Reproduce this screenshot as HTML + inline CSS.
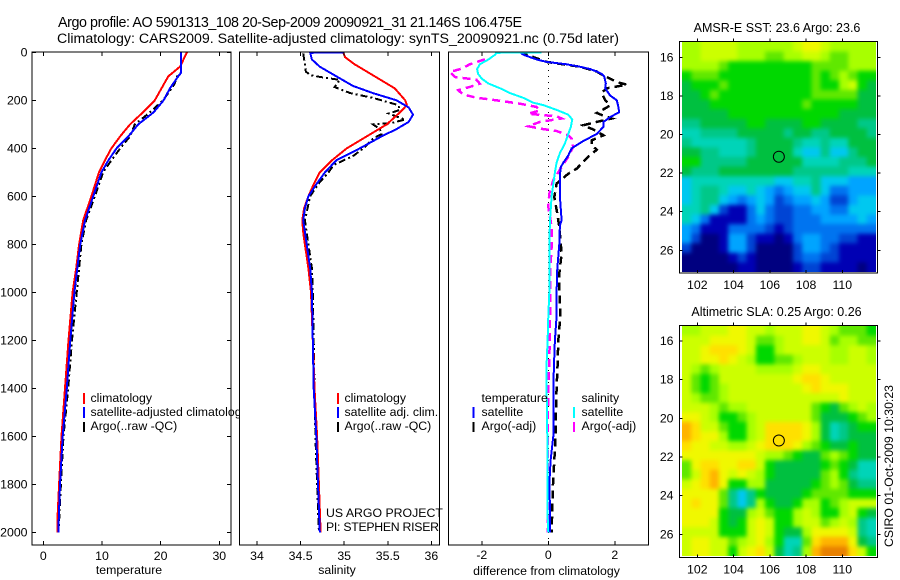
<!DOCTYPE html>
<html lang="en">
<head>
<meta charset="utf-8">
<title>Argo profile</title>
<style>
html,body{margin:0;padding:0;background:#fff;}
svg{display:block;font-family:"Liberation Sans",sans-serif;font-size:12px;fill:#000;}
</style>
</head>
<body>
<svg id="fig" xmlns="http://www.w3.org/2000/svg" width="900" height="580" viewBox="0 0 900 580">
<defs>
<filter id="mapBlur" x="-10%" y="-10%" width="120%" height="120%" color-interpolation-filters="sRGB"><feGaussianBlur stdDeviation="2"/></filter>
</defs>
<rect x="0" y="0" width="900" height="580" fill="#fff"/>
<text x="58" y="27" font-size="14.3" textLength="464">Argo profile: AO 5901313_108 20-Sep-2009 20090921_31 21.146S 106.475E</text>
<text x="57" y="43" font-size="14.2" textLength="562">Climatology: CARS2009. Satellite-adjusted climatology: synTS_20090921.nc (0.75d later)</text>
<text x="777" y="32" font-size="12.5" text-anchor="middle">AMSR-E SST: 23.6 Argo: 23.6</text>
<text x="776.5" y="316" font-size="12.5" text-anchor="middle">Altimetric SLA: 0.25 Argo: 0.26</text>
<text x="0" y="0" font-size="12.3" transform="translate(893,547) rotate(-90)">CSIRO 01-Oct-2009 10:30:23</text>
<g id="layer"></g>
</svg>
<script>
// ---- axis ticks ----
const depthTicks = [0,200,400,600,800,1000,1200,1400,1600,1800,2000];
const tempTicks = [0,10,20,30];
const salTicks = [34,34.5,35,35.5,36];
const salTickLabels = ['34','34.5','35','35.5','36'];
const diffTicks = [-2,0,2];
const lonTicks = [102,104,106,108,110];
const latTicks = [16,18,20,22,24,26];

// ---- temperature panel ----
const tClimDepth = [0,60,100,200,250,300,350,400,450,500,600,700,800,900,1000,1200,1400,1600,1800,1950,2000];
const tClimVal = [24.5,23.3,21.3,19,17,14.8,13.1,11.6,10.5,9.5,8.2,6.8,6.1,5.6,5,4.3,3.7,3.1,2.7,2.4,2.4];
const tSatDepth = [0,85,100,150,200,250,300,350,400,450,500,600,700,800,900,1000,1200,1400,1600,1800,2000];
const tSatVal = [23.5,23.5,23,21.6,20.5,18.8,16.2,14.5,12.5,11.1,9.9,8.5,7.1,6.3,5.8,5.3,4.6,4,3.3,2.85,2.55];
const tArgoDepth = [0,85,100,130,150,200,250,300,350,400,450,500,600,700,800,900,1000,1200,1400,1600,1800,2000];
const tArgoVal = [23.5,23.5,22.8,22.4,21.9,20.4,18.2,15.6,14.8,13.1,11.6,10.2,8.8,7.3,6.5,6.1,5.7,4.9,4.25,3.45,3,2.6];

// ---- salinity panel ----
const sClimDepth = [0,20,50,100,150,200,220,250,300,350,400,450,500,550,600,650,700,750,800,900,1000,1200,1400,1600,1800,2000];
const sClimVal = [34.99,35.01,35.12,35.35,35.58,35.7,35.72,35.64,35.49,35.26,35.03,34.86,34.72,34.65,34.59,34.54,34.52,34.53,34.55,34.59,34.62,34.64,34.66,34.69,34.71,34.73];
const sSatDepth = [0,2,30,60,100,140,170,200,230,260,290,320,350,400,450,500,550,600,650,700,800,900,1000,1200,1400,1500,1600,1800,2000];
const sSatVal = [34.99,34.61,34.63,34.72,34.91,35.1,35.33,35.6,35.74,35.79,35.74,35.6,35.43,35.18,34.91,34.78,34.68,34.59,34.55,34.53,34.57,34.61,34.63,34.64,34.65,34.665,34.68,34.7,34.72];
const sArgoDepth = [5,50,80,95,105,115,145,170,190,220,240,255,270,280,295,300,320,340,360,400,430,470,500,550,600,700,800,900,1000,1200,1400,1600,1800,2000];
const sArgoVal = [34.53,34.55,34.56,34.61,34.76,34.95,34.89,35.07,35.33,35.62,35.64,35.51,35.62,35.7,35.54,35.33,35.41,35.43,35.33,35.22,35.11,34.88,34.82,34.7,34.61,34.55,34.59,34.63,34.64,34.65,34.66,34.67,34.69,34.71];

// ---- difference panel ----
const dTSatDepth = [0,10,20,30,40,50,60,70,80,90,100,130,150,180,200,230,250,270,290,310,340,370,400,430,460,480,520,600,700,720,800,900,1000,1100,1200,1300,1400,1500,1600,1700,1800,1900,2000];
const dTSatVal = [-0.85,-0.75,-0.55,-0.35,-0.05,0.55,0.95,1.26,1.46,1.6,1.68,1.73,1.71,1.86,2.06,2.11,2.13,1.86,1.66,1.66,1.46,1.05,0.7,0.6,0.45,0.37,0.35,0.35,0.4,0.35,0.33,0.27,0.25,0.25,0.2,0.17,0.15,0.16,0.15,0.07,0.03,0.05,0.05];
const dTArgoDepth = [0,40,60,80,89,103,124,135,150,169,200,221,230,253,267,276,290,304,322,346,367,388,406,436,464,485,506,547,603,672,728,839,922,992,1100,1200,1300,1400,1500,1600,1700,1800,1900,2000];
const dTArgoVal = [-0.85,-0.05,0.95,1.46,1.56,1.76,2.06,2.36,1.76,1.6,1.71,1.86,1.76,1.46,1.71,1.91,1.46,1.05,1.36,1.66,1.3,1.3,1.46,1.2,1,0.85,0.6,0.25,0.18,0.27,0.33,0.4,0.33,0.33,0.36,0.3,0.28,0.25,0.23,0.22,0.18,0.14,0.12,0.1];
const dSSatDepth = [0,2,10,30,50,70,90,110,130,150,170,190,210,220,240,260,280,310,340,380,420,460,500,550,600,700,800,1000,1100,1200,1300,1400,1600,1700,1900,2000];
const dSSatVal = [-0.2,-1.56,-1.6,-1.8,-2.06,-2.14,-2.11,-2,-1.8,-1.45,-1.15,-0.75,-0.45,-0.15,0.25,0.6,0.72,0.68,0.6,0.5,0.35,0.25,0.2,0.15,0.1,0.05,0.03,0.03,0,-0.02,-0.05,-0.05,-0.03,-0.03,-0.03,0];
const dSArgoDepth = [29,50,68,82,103,114,131,144,158,176,189,200,214,228,242,256,267,276,290,308,318,328,346,360,394,436,478,533,589,644,728,811,922,992,1100,1300,1400,1600,1900,2000];
const dSArgoVal = [-1.91,-2.36,-2.6,-2.96,-2.81,-2.16,-2.06,-2.36,-2.71,-2.56,-2.16,-1.56,-0.85,-0.35,-0.25,-0.6,0.25,0.4,-0.25,-0.6,-0.25,0.25,0.6,0.7,0.75,0.6,0.4,0.15,0.03,0,0.1,0.1,0.05,0.05,0.05,0.03,0,-0.02,-0.02,-0.02];

// ---- map grids (colour-level values, north to south) ----
const sstGrid = [
[11,11,12,12,12,12,11,11,11,11,11,11,12,13,13,12,11,11,11,11,11],
[11,11,12,12,12,12,11,11,11,10,10,11,11,12,12,11,10,10,11,11,11],
[11,11,11,11,10,9,9,9,9,9,9,9,9,9,10,10,10,10,11,11,11],
[9,10,10,10,9,9,9,9,9,9,9,9,9,9,10,9,10,11,10,9,9],
[8,9,9,9,10,9,9,9,9,9,9,9,9,9,10,9,9,11,12,9,8],
[8,8,9,10,9,9,9,9,9,9,9,9,9,9,10,10,10,10,10,8,8],
[8,8,8,9,9,9,9,9,9,9,9,9,9,10,9,9,9,9,9,8,8],
[8,8,8,8,8,9,9,9,9,9,9,9,9,9,9,9,9,8,8,8,8],
[7,7,8,8,8,8,8,9,9,8,8,8,8,9,9,8,8,8,8,7,7],
[6,6,7,7,7,7,8,8,8,8,8,7,8,8,7,7,8,8,8,8,7],
[7,6,6,6,6,6,6,7,8,8,8,8,7,6,6,7,6,6,8,8,8],
[8,8,7,7,6,6,6,7,8,8,8,8,6,5,5,7,5,5,7,8,8],
[9,9,7,7,7,7,7,8,8,8,8,8,8,6,6,6,6,7,7,7,8],
[8,7,7,7,8,8,8,8,8,8,8,8,7,7,7,7,7,7,6,6,6],
[5,6,6,6,6,6,6,6,6,6,5,5,6,6,7,5,5,5,4,4,4],
[5,6,7,7,6,5,5,6,5,4,3,4,5,5,7,5,3,3,4,4,4],
[5,6,7,7,5,4,3,4,5,4,2,3,4,4,5,4,2,2,4,5,5],
[6,6,7,5,2,1,1,3,5,3,2,2,3,3,4,4,3,3,5,5,5],
[6,5,3,1,1,1,1,3,4,3,2,2,3,3,3,4,4,4,4,5,4],
[4,3,1,1,1,3,3,3,3,2,1,2,3,3,3,3,3,3,3,3,3],
[4,2,0,0,1,4,4,2,1,1,0,1,3,4,4,3,3,2,2,1,1],
[2,0,0,0,1,4,4,2,0,0,0,0,2,4,4,3,2,1,1,1,1],
[0,0,0,0,0,1,2,1,0,0,0,0,2,3,3,2,2,1,1,1,1],
[0,0,0,0,0,0,1,1,0,0,0,0,1,2,2,1,1,1,1,0,1]
];
const slaGrid = [
[11,11,12,12,12,13,13,12,12,11,12,12,12,13,13,12,11,10,10,10,9],
[12,12,12,13,13,13,13,12,10,10,11,12,12,13,13,12,10,11,11,10,10],
[12,12,13,14,14,14,13,12,9,9,11,12,12,12,12,12,11,11,12,12,11],
[12,12,13,13,14,13,12,11,9,9,10,10,11,12,12,12,11,11,12,12,11],
[12,11,10,11,12,12,12,12,11,11,11,11,12,13,13,12,12,12,12,12,12],
[12,10,9,10,12,12,12,12,12,12,12,12,13,14,14,13,12,12,12,12,12],
[12,10,9,10,11,12,12,12,12,12,12,12,12,13,14,13,13,13,12,12,12],
[12,11,10,10,11,12,12,12,12,12,12,12,12,12,12,12,12,13,12,12,12],
[12,12,12,11,10,11,11,12,12,12,12,12,12,12,10,9,8,10,11,12,11],
[13,13,12,11,9,9,10,11,12,12,12,12,12,12,10,8,8,8,9,10,11],
[15,14,12,12,10,9,9,11,12,14,14,14,14,13,11,8,6,7,8,9,9],
[15,14,13,13,11,9,9,11,12,14,14,14,14,13,11,8,6,7,8,8,8],
[14,13,13,12,12,11,11,12,13,14,14,14,13,11,10,9,8,8,9,8,8],
[13,13,13,13,13,13,13,13,12,11,11,10,9,8,8,10,11,10,9,8,8],
[10,13,14,14,13,13,14,14,12,9,8,8,8,8,8,9,10,9,8,6,6],
[10,12,14,15,13,12,13,12,11,9,8,8,8,8,8,10,11,9,7,6,6],
[12,13,14,15,13,9,9,11,11,8,8,8,8,8,9,10,11,10,8,7,7],
[13,13,13,13,10,7,5,7,9,8,8,8,8,9,10,10,10,10,9,9,9],
[13,14,13,13,10,7,5,7,11,9,8,8,9,11,11,9,10,11,12,12,12],
[13,13,13,13,9,8,8,11,12,10,9,9,11,12,11,9,9,11,12,9,8],
[13,13,13,12,9,8,9,12,13,12,9,9,11,12,12,10,11,12,11,7,6],
[12,12,12,12,9,9,9,12,13,12,9,8,8,11,13,13,13,13,12,7,6],
[12,13,13,12,12,10,11,12,13,11,9,6,6,10,14,15,15,15,13,8,7],
[12,13,13,12,12,9,12,13,14,12,8,6,7,11,15,16,16,16,14,12,9]
];
const levelColors = ['#000080','#0000b4','#0044d4','#0074f0','#00a4ff','#00c8f0','#00d4b8','#00c888','#00c040','#00d800','#60e800','#a8ff00','#ccff00','#f0f800','#ffe000','#ffb400','#e88000'];
const argoLon = 106.5;
const argoLat = 21.15;

// ---- axis functions ----
const NS = 'http://www.w3.org/2000/svg';
const layer = document.getElementById('layer');
function el(tag, attrs, parent){
  const e = document.createElementNS(NS, tag);
  for (const k in attrs) e.setAttribute(k, attrs[k]);
  (parent || layer).appendChild(e);
  return e;
}
const depthY = d => 52.3 + d * 0.24;
const tempX = v => 43.3 + v * 5.867;
const salX = v => 257 + (v - 34) * 87.17;
const diffX = v => 548.3 + v * 33.25;
const lonX = v => 697.3 + (v - 102) * 18.125;
const latY1 = v => 57.3 + (v - 16) * 19.3;
const latY2 = v => 341 + (v - 16) * 19.33;

function label(name, txt, x, y, anchor){
  const t = el('text', {x:x, y:y, 'text-anchor':anchor || 'start', 'font-size':12.3});
  
  
  t.textContent = txt;
  return t;
}
function tick(name, x1, y1, x2, y2){
  const l = el('line', {x1:x1, y1:y1, x2:x2, y2:y2, stroke:'#000', 'stroke-width':1, 'shape-rendering':'crispEdges'});
  
  
}
function series(name, depth, vals, xf, color, width, dash, clipId){
  const pts = depth.map((d, i) => xf(vals[i]).toFixed(1) + ',' + depthY(d).toFixed(1)).join(' ');
  const p = el('polyline', {points:pts, fill:'none', stroke:color, 'stroke-width':width, 'clip-path':'url(#' + clipId + ')', 'shape-rendering':'crispEdges'});
  if (dash) p.setAttribute('stroke-dasharray', dash);
  
  
}
function panelFrame(name, x0, x1, y0, y1){
  const r = el('rect', {x:x0, y:y0, width:x1 - x0, height:y1 - y0, fill:'none', stroke:'#000', 'stroke-width':1, 'shape-rendering':'crispEdges'});
  
  
}
function panelBg(name, id, x0, x1, y0, y1){
  const r = el('rect', {x:x0, y:y0, width:x1 - x0, height:y1 - y0, fill:'#fff'});
  
  
  const c = el('clipPath', {id:id});
  el('rect', {x:x0, y:y0, width:x1 - x0, height:y1 - y0}, c);
}
function legendMark(name, x, y0, y1, color){
  const l = el('line', {x1:x, y1:y0, x2:x, y2:y1, stroke:color, 'stroke-width':2, 'shape-rendering':'crispEdges'});
  
  
}

const T = 52, B = 545;

// Temperature panel
panelBg('temperature-panel-background', 'clipT', 32, 231, T, B);
label('legend-climatology', 'climatology', 90.5, 402);
legendMark('legend-mark-climatology', 84, 393, 404, '#f00');
label('legend-satellite-adjusted', 'satellite-adjusted climatology', 90.5, 416);
legendMark('legend-mark-satellite-adjusted', 84, 407, 418, '#00f');
label('legend-argo', 'Argo(..raw -QC)', 90.5, 430);
legendMark('legend-mark-argo', 84, 422, 432, '#000');
series('temperature-argo-line', tArgoDepth, tArgoVal, tempX, '#000', 2, '7 3 2 3', 'clipT');
series('temperature-climatology-line', tClimDepth, tClimVal, tempX, '#f00', 2, '', 'clipT');
series('temperature-satellite-line', tSatDepth, tSatVal, tempX, '#00f', 2, '', 'clipT');
depthTicks.forEach(d => {
  tick('depth-tick-left', 32, depthY(d), 36, depthY(d));
  tick('depth-tick-right', 227, depthY(d), 231, depthY(d));
  label('depth-tick-label', String(d), 27.5, depthY(d) + 4, 'end');
});
tempTicks.forEach(v => {
  tick('temperature-tick-top', tempX(v), T, tempX(v), T + 4);
  tick('temperature-tick-bottom', tempX(v), B - 4, tempX(v), B);
  label('temperature-tick-label', String(v), tempX(v), 560, 'middle');
});
panelFrame('temperature-panel-frame', 32, 231, T, B);
label('temperature-axis-title', 'temperature', 129, 574, 'middle');

// Salinity panel
panelBg('salinity-panel-background', 'clipS', 239.5, 439.5, T, B);
series('salinity-argo-line', sArgoDepth, sArgoVal, salX, '#000', 2, '7 3 2 3', 'clipS');
series('salinity-climatology-line', sClimDepth, sClimVal, salX, '#f00', 2, '', 'clipS');
series('salinity-satellite-line', sSatDepth, sSatVal, salX, '#00f', 2, '', 'clipS');
salTicks.forEach((v, i) => {
  tick('salinity-tick-top', salX(v), T, salX(v), T + 4);
  tick('salinity-tick-bottom', salX(v), B - 4, salX(v), B);
  label('salinity-tick-label', salTickLabels[i], salX(v), 560, 'middle');
});
label('legend-s-climatology', 'climatology', 344.5, 402);
legendMark('legend-mark-s-climatology', 338, 393, 404, '#f00');
label('legend-s-satellite', 'satellite adj. clim.', 344.5, 416);
legendMark('legend-mark-s-satellite', 338, 407, 418, '#00f');
label('legend-s-argo', 'Argo(..raw -QC)', 344.5, 430);
legendMark('legend-mark-s-argo', 338, 422, 432, '#000');
label('project-label', 'US ARGO PROJECT', 326, 517);
label('pi-label', 'PI: STEPHEN RISER', 326, 531).setAttribute('textLength', '113');
panelFrame('salinity-panel-frame', 239.5, 439.5, T, B);
label('salinity-axis-title', 'salinity', 337, 574, 'middle');

// Difference panel
panelBg('difference-panel-background', 'clipD', 448.5, 648.5, T, B);
const zero = el('line', {x1:diffX(0), y1:T, x2:diffX(0), y2:B, stroke:'#000', 'stroke-width':1, 'stroke-dasharray':'1 5', 'shape-rendering':'crispEdges'});


series('difference-salinity-argo-line', dSArgoDepth, dSArgoVal, diffX, '#f0f', 2.5, '8 5', 'clipD');
series('difference-temperature-argo-line', dTArgoDepth, dTArgoVal, diffX, '#000', 2.5, '8 5', 'clipD');
series('difference-temperature-satellite-line', dTSatDepth, dTSatVal, diffX, '#00f', 2, '', 'clipD');
series('difference-salinity-satellite-line', dSSatDepth, dSSatVal, diffX, '#0ff', 2, '', 'clipD');
diffTicks.forEach(v => {
  tick('difference-tick-top', diffX(v), T, diffX(v), T + 4);
  tick('difference-tick-bottom', diffX(v), B - 4, diffX(v), B);
  label('difference-tick-label', String(v), diffX(v), 559, 'middle');
});
label('legend-d-temperature-heading', 'temperature', 481.5, 402);
label('legend-d-temperature-satellite', 'satellite', 481.5, 416);
legendMark('legend-mark-d-temperature-satellite', 473.5, 407, 418, '#00f');
label('legend-d-temperature-argo', 'Argo(-adj)', 481.5, 430);
legendMark('legend-mark-d-temperature-argo', 473.5, 422, 432, '#000');
label('legend-d-salinity-heading', 'salinity', 581.5, 402);
label('legend-d-salinity-satellite', 'satellite', 581.5, 416);
legendMark('legend-mark-d-salinity-satellite', 574, 407, 418, '#0ff');
label('legend-d-salinity-argo', 'Argo(-adj)', 581.5, 430);
legendMark('legend-mark-d-salinity-argo', 574, 422, 432, '#f0f');
panelFrame('difference-panel-frame', 448.5, 648.5, T, B);
label('difference-axis-title', 'difference from climatology', 546.5, 575, 'middle');

// Maps
function drawMap(prefix, grid, latY, top, bottom, imgTop, imgBottom){
  const left = 679.5, right = 877.5, imgL = 682, imgR = 876;
  const rows = grid.length, cols = grid[0].length;
  const cw = (imgR - imgL) / cols, ch = (imgBottom - imgTop) / rows;
  const clipId = prefix + 'Clip';
  const cp = el('clipPath', {id:clipId});
  el('rect', {x:imgL, y:imgTop, width:imgR - imgL, height:imgBottom - imgTop}, cp);
  const outer = el('g', {'clip-path':'url(#' + clipId + ')'});
  
  
  const inner = el('g', {filter:'url(#mapBlur)'}, outer);
  const pad = 12;
  grid.forEach((row, r) => row.forEach((v, c) => {
    const x0 = imgL + c * cw - (c === 0 ? pad : 0);
    const x1 = imgL + (c + 1) * cw + (c === cols - 1 ? pad : 0.5);
    const y0 = imgTop + r * ch - (r === 0 ? pad : 0);
    const y1 = imgTop + (r + 1) * ch + (r === rows - 1 ? pad : 0.5);
    const cell = el('rect', {x:x0, y:y0, width:x1 - x0, height:y1 - y0, fill:levelColors[Math.max(0, Math.min(levelColors.length - 1, Math.round(v)))]}, inner);
    
    
  }));
  panelFrame(prefix + '-map-frame', left, right, top, bottom);
  lonTicks.forEach(v => {
    tick(prefix + '-lon-tick', lonX(v), top - 3, lonX(v), top);
    tick(prefix + '-lon-tick-bottom', lonX(v), bottom - 3, lonX(v), bottom);
    label(prefix + '-lon-label', String(v), lonX(v), bottom + 16, 'middle');
  });
  latTicks.forEach(v => {
    tick(prefix + '-lat-tick-left', left, latY(v), left + 3, latY(v));
    tick(prefix + '-lat-tick-right', right, latY(v), right + 3, latY(v));
    label(prefix + '-lat-label', String(v), 673.5, latY(v) + 4, 'end');
  });
  const c = el('circle', {cx:lonX(argoLon), cy:latY(argoLat), r:5.5, fill:'none', stroke:'#000', 'stroke-width':1});
  
  
}
drawMap('sst', sstGrid, latY1, 41.5, 273, 42, 272);
drawMap('sla', slaGrid, latY2, 325.5, 557.5, 326, 556);
</script>
</body>
</html>
